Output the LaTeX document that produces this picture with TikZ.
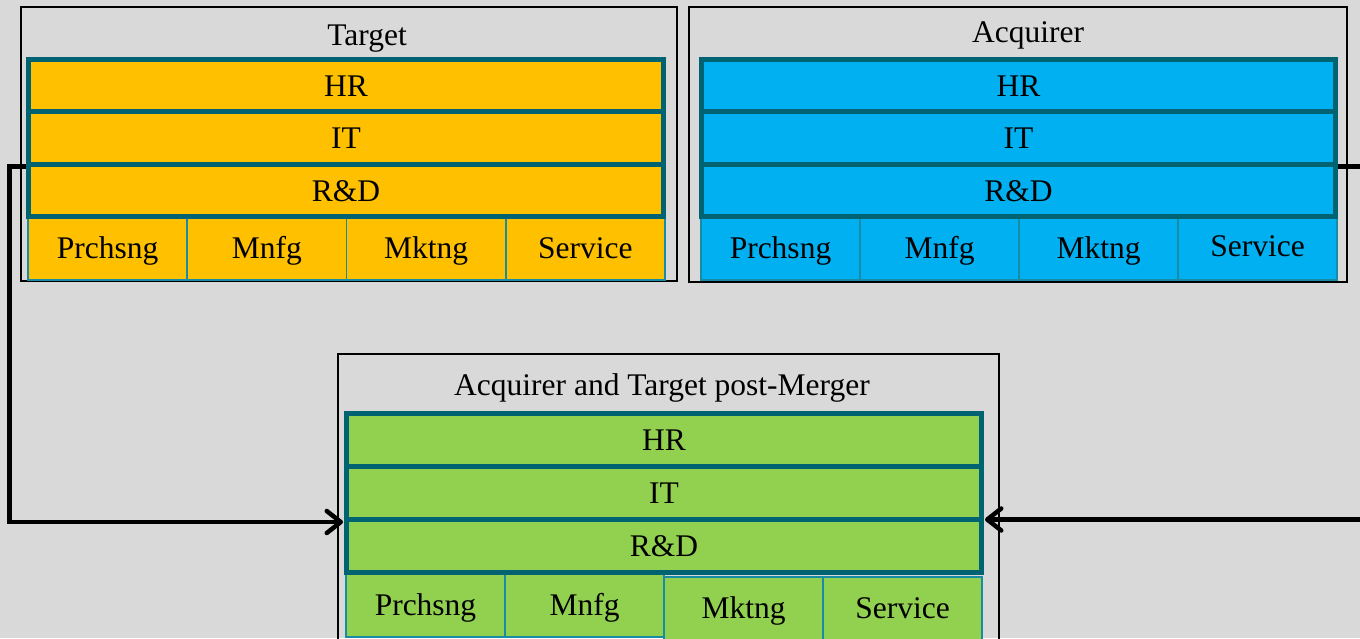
\documentclass[tikz,border=0pt]{standalone}
\usepackage{fontspec}
\setmainfont{Liberation Serif}
\usetikzlibrary{arrows.meta}
\definecolor{canvas}{HTML}{D9D9D9}
\definecolor{edgeteal}{RGB}{0,99,114}
\definecolor{celledge}{RGB}{25,140,165}
\definecolor{tgtfill}{HTML}{FFC000}
\definecolor{acqfill}{HTML}{00B0F0}
\definecolor{mrgfill}{HTML}{92D050}
\tikzset{
  bigtext/.style={font=\fontsize{31.5}{36}\selectfont},
  frame/.style={draw=black, line width=1.5pt, inner sep=0pt, fill=none},
  titletext/.style={bigtext, inner sep=0pt, anchor=base},
  rowbox/.style={bigtext, draw=edgeteal, line width=5pt, minimum height=52.5pt, inner sep=0pt,
    text height=24pt, text depth=2.5pt},
  cellbox/.style={bigtext, draw=celledge, line width=1.5pt, minimum width=159pt, minimum height=62pt,
    inner sep=0pt, text height=24pt, text depth=5pt},
  conn/.style={draw=black, line width=4.5pt},
  arrowend/.style={-{Straight Barb[length=14pt,width=22pt,line join=round,line cap=round]}},
}
\begin{document}
\begin{tikzpicture}[x=1pt, y=-1pt]
  \useasboundingbox (0,0) rectangle (1360,638);
  \clip (0,0) rectangle (1360,638);
  \fill[canvas] (0,0) rectangle (1360,638);

  % ---- Target ----
  \node[frame, minimum width=656pt, minimum height=274pt] (tFrame) at (349,144) {};
  \node[titletext] (tTitle) at (367,45) {Target};
  \node[cellbox, fill=tgtfill] (tC1) at (107.6,249) {Prchsng};
  \node[cellbox, fill=tgtfill] (tC2) at (266.9,249) {Mnfg};
  \node[cellbox, fill=tgtfill] (tC3) at (426.1,249) {Mktng};
  \node[cellbox, fill=tgtfill] (tC4) at (585.4,249) {Service};
  \node[rowbox, fill=tgtfill, minimum width=635pt] (tHR) at (346,85.25) {HR};
  \node[rowbox, fill=tgtfill, minimum width=635pt] (tIT) at (346,137.75) {IT};
  \node[rowbox, fill=tgtfill, minimum width=635pt] (tRD) at (346,190.25) {R\&D};

  % ---- Acquirer ----
  \node[frame, minimum width=658pt, minimum height=275pt] (aFrame) at (1018,144.5) {};
  \node[titletext] (aTitle) at (1028,42) {Acquirer};
  \node[cellbox, fill=acqfill] (aC1) at (780.5,249) {Prchsng};
  \node[cellbox, fill=acqfill] (aC2) at (939.5,249) {Mnfg};
  \node[cellbox, fill=acqfill] (aC3) at (1098.5,249) {Mktng};
  \node[cellbox, fill=acqfill] (aC4) at (1257.5,249) {\raisebox{2pt}{Service}};
  \node[rowbox, fill=acqfill, minimum width=634pt] (aHR) at (1018.5,85.25) {HR};
  \node[rowbox, fill=acqfill, minimum width=634pt] (aIT) at (1018.5,137.75) {IT};
  \node[rowbox, fill=acqfill, minimum width=634pt] (aRD) at (1018.5,190.25) {R\&D};

  % ---- Acquirer and Target post-Merger ----
  \node[frame, minimum width=661pt, minimum height=320pt] (gFrame) at (668.5,514) {};
  \node[titletext] (gTitle) at (662,395) {Acquirer and Target post-Merger};
  \node[cellbox, fill=mrgfill, minimum height=63pt] (gC1) at (425.5,605.5) {Prchsng};
  \node[cellbox, fill=mrgfill, minimum height=63pt] (gC2) at (584.5,605.5) {Mnfg};
  \node[cellbox, fill=mrgfill, minimum height=63pt] (gC3) at (743.5,608.5) {Mktng};
  \node[cellbox, fill=mrgfill, minimum height=63pt] (gC4) at (902.5,608.5) {Service};
  \node[rowbox, fill=mrgfill, minimum width=635pt, minimum height=53pt] (gHR) at (664,440) {HR};
  \node[rowbox, fill=mrgfill, minimum width=635pt, minimum height=53pt] (gIT) at (664,493) {IT};
  \node[rowbox, fill=mrgfill, minimum width=635pt, minimum height=53pt] (gRD) at (664,546) {R\&D};

  % ---- connectors ----
  \coordinate (rightRail) at (1385,0);
  \draw[conn, arrowend] (tIT.south west) -- ++(-16.5,0) |- ([xshift=-1pt]gIT.south west);
  \draw[conn, arrowend] (aIT.south east) -- (aIT.south east -| rightRail)
    |- ([xshift=1pt,yshift=2.5pt]gIT.south east);
\end{tikzpicture}
\end{document}
